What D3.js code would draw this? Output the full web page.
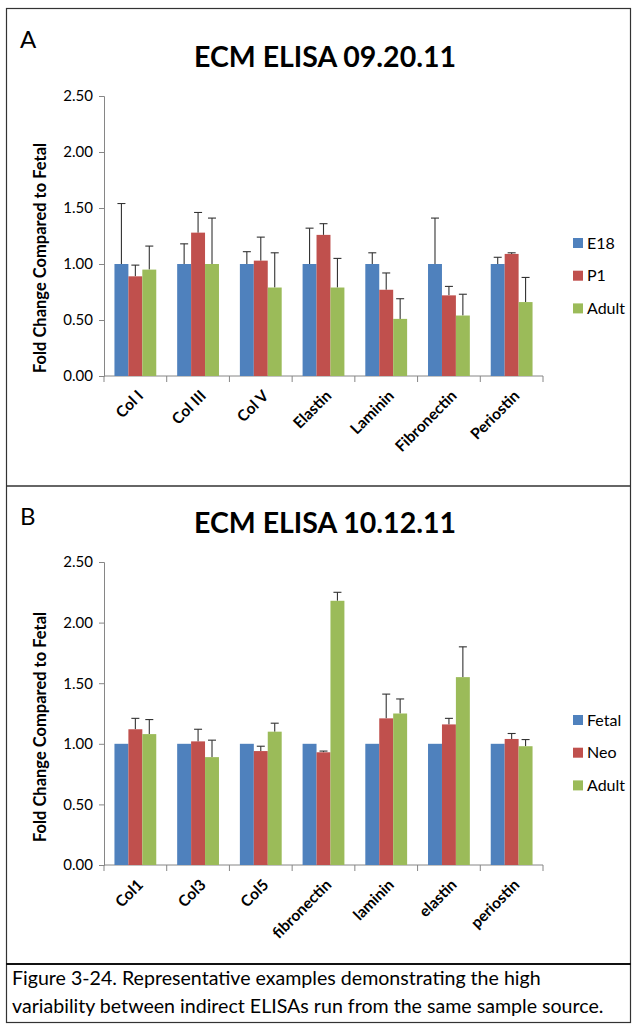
<!DOCTYPE html>
<html lang="en">
<head>
<meta charset="UTF-8">
<title>ECM ELISA</title>
<script src="https://d3js.org/d3.v7.min.js"></script>
<style>
  body { margin: 0; background: #fff; }
  svg text { font-family: Lato, "Open Sans", sans-serif; fill: #000; }
</style>
</head>
<body>
<div id="chart"></div>
<script>
// ---- data ----
var yTicks = [0, 0.5, 1, 1.5, 2, 2.5];

var catsA = ["Col I", "Col III", "Col V", "Elastin", "Laminin", "Fibronectin", "Periostin"];
var seriesA = ["E18", "P1", "Adult"];
var e18A   = [1.00, 1.00, 1.00, 1.00, 1.00, 1.00, 1.00];
var p1A    = [0.89, 1.28, 1.03, 1.26, 0.77, 0.72, 1.09];
var adultA = [0.95, 1.00, 0.79, 0.79, 0.51, 0.54, 0.66];
var e18ErrA   = [0.54, 0.18, 0.11, 0.32, 0.10, 0.41, 0.06];
var p1ErrA    = [0.10, 0.18, 0.21, 0.10, 0.15, 0.08, 0.01];
var adultErrA = [0.21, 0.41, 0.31, 0.26, 0.18, 0.19, 0.22];

var catsB = ["Col1", "Col3", "Col5", "fibronectin", "laminin", "elastin", "periostin"];
var seriesB = ["Fetal", "Neo", "Adult"];
var fetalB = [1.00, 1.00, 1.00, 1.00, 1.00, 1.00, 1.00];
var neoB   = [1.12, 1.02, 0.94, 0.93, 1.21, 1.16, 1.04];
var adultB = [1.08, 0.89, 1.10, 2.18, 1.25, 1.55, 0.98];
var fetalErrB = [0, 0, 0, 0, 0, 0, 0];
var neoErrB   = [0.09, 0.10, 0.04, 0.01, 0.20, 0.05, 0.045];
var adultErrB = [0.12, 0.14, 0.07, 0.07, 0.12, 0.25, 0.055];

var colors = ["#4F81BD", "#C0504D", "#9BBB59"];

var W = 632, H = 1025;
var svg = d3.select("#chart").append("svg")
    .attr("width", W).attr("height", H);

// frame lines
svg.append("rect").attr("x", 6.5).attr("y", 8.5).attr("width", 624).attr("height", 1014)
    .attr("fill", "none").attr("stroke", "#333").attr("stroke-width", 1.2);
svg.append("line").attr("x1", 6).attr("x2", 631).attr("y1", 486).attr("y2", 486)
    .attr("stroke", "#333").attr("stroke-width", 1.5);
svg.append("line").attr("x1", 6).attr("x2", 631).attr("y1", 964).attr("y2", 964)
    .attr("stroke", "#111").attr("stroke-width", 2);

function drawPanel(p) {
  var g = svg.append("g");

  g.append("text").attr("x", 20).attr("y", p.letterY).text(p.letter)
      .style("font-size", "24px");
  g.append("text").attr("x", 325).attr("y", p.titleY).text(p.title)
      .attr("text-anchor", "middle").style("font-size", "28.5px").style("font-weight", "bold");

  var x = d3.scaleBand().domain(p.cats).range([104, 543]).padding(0);
  var y = d3.scaleLinear().domain([0, 2.5]).range(p.yRange);

  // group layout: bars take 3 of 4.5 bar widths (Excel gap width 150%)
  var barW = x.bandwidth() / 4.5;
  var xs = d3.scaleBand().domain(p.series)
      .range([barW * 0.75, barW * 3.75]).padding(0);

  // y axis
  var yAxis = g.append("g").attr("transform", "translate(104,0)")
      .call(d3.axisLeft(y).tickValues(yTicks).tickFormat(d3.format(".2f")).tickSize(5).tickPadding(6));
  yAxis.selectAll("path, line").attr("stroke", "#868686");
  yAxis.selectAll("text").style("font-size", "15px").style("font-family", "Lato, sans-serif").attr("fill", "#000");

  // x axis line and ticks between categories
  var xAxis = g.append("g").attr("transform", "translate(0," + p.yRange[0] + ")");
  xAxis.append("line").attr("x1", 104).attr("x2", 543).attr("stroke", "#868686");
  var bounds = p.cats.map(function (c) { return x(c); }).concat([x(p.cats[p.cats.length - 1]) + x.bandwidth()]);
  xAxis.selectAll("line.tk").data(bounds).enter().append("line").attr("class", "tk")
      .attr("x1", function (d) { return d; }).attr("x2", function (d) { return d; })
      .attr("y1", 0).attr("y2", 6).attr("stroke", "#868686");
  xAxis.selectAll("text").data(p.cats).enter().append("text")
      .attr("transform", function (d) {
        return "translate(" + (x(d) + x.bandwidth() / 2 + 5) + ",17) rotate(-45)";
      })
      .attr("text-anchor", "end").attr("dy", "0.35em")
      .style("font-size", "15.5px").style("font-weight", "bold")
      .text(function (d) { return d; });

  // bars
  var rows = p.cats.map(function (c, i) {
    return p.series.map(function (s, j) {
      return { cat: c, key: s, idx: j, value: p.values[j][i], err: p.errors[j][i] };
    });
  });
  var groups = g.append("g").selectAll("g").data(rows).enter().append("g")
      .attr("transform", function (d) { return "translate(" + x(d[0].cat) + ",0)"; });

  // error bars (plus direction only)
  groups.selectAll("g.err").data(function (d) { return d.filter(function (e) { return e.err > 0; }); })
    .enter().append("g").attr("class", "err").each(function (d) {
      var cx = xs(d.key) + xs.bandwidth() / 2;
      var sel = d3.select(this);
      sel.append("line").attr("x1", cx).attr("x2", cx)
          .attr("y1", y(d.value)).attr("y2", y(d.value + d.err))
          .attr("stroke", "#333").attr("stroke-width", 1.1);
      sel.append("line").attr("x1", cx - 4).attr("x2", cx + 4)
          .attr("y1", y(d.value + d.err)).attr("y2", y(d.value + d.err))
          .attr("stroke", "#333").attr("stroke-width", 1.1);
    });

  groups.selectAll("rect").data(function (d) { return d; }).enter().append("rect")
      .attr("x", function (d) { return xs(d.key); })
      .attr("y", function (d) { return y(d.value); })
      .attr("width", xs.bandwidth())
      .attr("height", function (d) { return y(0) - y(d.value); })
      .attr("fill", function (d) { return colors[d.idx]; });

  // y axis title
  g.append("text").attr("transform", "translate(46," + p.yTitleMid + ") rotate(-90)")
      .attr("text-anchor", "middle").style("font-size", "16.5px").style("font-weight", "bold")
      .text("Fold Change Compared to Fetal");

  // legend
  var leg = g.append("g").selectAll("g").data(p.series).enter().append("g")
      .attr("transform", function (d, i) { return "translate(573," + (p.legendY + i * 32.7) + ")"; });
  leg.append("rect").attr("x", 0).attr("y", -5).attr("width", 10).attr("height", 10)
      .attr("fill", function (d, i) { return colors[i]; });
  leg.append("text").attr("x", 14).attr("dy", "0.36em").style("font-size", "16px")
      .text(function (d) { return d; });
}

drawPanel({
  letter: "A", letterY: 48, title: "ECM ELISA 09.20.11", titleY: 67,
  cats: catsA, series: seriesA,
  values: [e18A, p1A, adultA], errors: [e18ErrA, p1ErrA, adultErrA],
  yRange: [376, 96], legendY: 243, yTitleMid: 258
});

drawPanel({
  letter: "B", letterY: 525, title: "ECM ELISA 10.12.11", titleY: 533,
  cats: catsB, series: seriesB,
  values: [fetalB, neoB, adultB], errors: [fetalErrB, neoErrB, adultErrB],
  yRange: [865, 562], legendY: 720, yTitleMid: 727
});

// caption
svg.append("text").attr("x", 12).attr("y", 985).style("font-size", "19.6px")
    .text("Figure 3-24. Representative examples demonstrating the high");
svg.append("text").attr("x", 12).attr("y", 1013).style("font-size", "19.6px")
    .text("variability between indirect ELISAs run from the same sample source.");
</script>
</body>
</html>
